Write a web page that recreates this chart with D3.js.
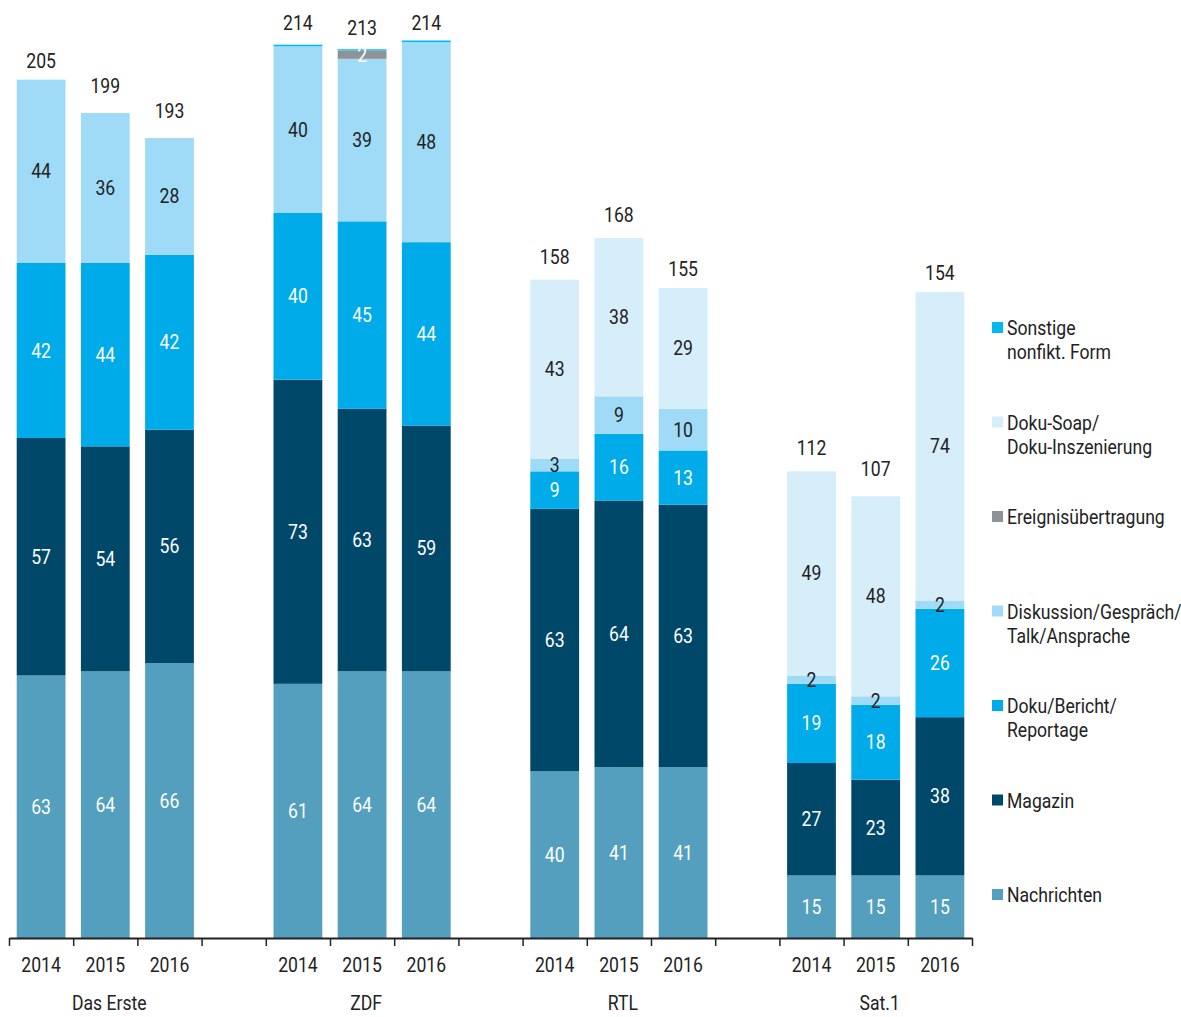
<!DOCTYPE html>
<html>
<head>
<meta charset="utf-8">
<script src="https://cdn.jsdelivr.net/npm/d3@7"></script>
<style>
  body { margin: 0; background: #fff; }
  text { font-family: "Liberation Sans Narrow", "Roboto", "DejaVu Sans Condensed", sans-serif; }
</style>
</head>
<body>
<div id="chart"></div>
<script>
// data

var groups = ["Das Erste", "ZDF", "RTL", "Sat.1"];
var years = ["2014", "2015", "2016"];

// series, bottom to top
var seriesNames = ["Nachrichten", "Magazin", "Doku/Bericht/Reportage", "Diskussion/Gespräch/Talk/Ansprache",
  "Ereignisübertragung", "Doku-Soap/Doku-Inszenierung", "Sonstige nonfikt. Form"];

// one entry per bar: Das Erste 14,15,16, ZDF 14,15,16, RTL ..., Sat.1 ...
var nachrichten = [63, 64, 66, 61, 64, 64, 40, 41, 41, 15, 15, 15];
var magazin     = [57, 54, 56, 73, 63, 59, 63, 64, 63, 27, 23, 38];
var dokuBericht = [42, 44, 42, 40, 45, 44, 9, 16, 13, 19, 18, 26];
var diskussion  = [44, 36, 28, 40, 39, 48, 3, 9, 10, 2, 2, 2];
var ereignis    = [0, 0, 0, 0, 2, 0, 0, 0, 0, 0, 0, 0];
var dokuSoap    = [0, 0, 0, 0, 0, 0, 43, 38, 29, 49, 48, 74];
var sonstige    = [0, 0, 0, 0.4, 0.3, 0.4, 0, 0, 0, 0, 0, 0];
var totals      = [205, 199, 193, 214, 213, 214, 158, 168, 155, 112, 107, 154];

var legendNames = [["Sonstige", "nonfikt. Form"], ["Doku-Soap/", "Doku-Inszenierung"], ["Ereignisübertragung"],
  ["Diskussion/Gespräch/", "Talk/Ansprache"], ["Doku/Bericht/", "Reportage"], ["Magazin"], ["Nachrichten"]];

var colors = ["#539fbd", "#00486a", "#00abe9", "#9fdbf6", "#8f9397", "#d6edfa", "#00b9f1"];
var labelColors = ["#fff", "#fff", "#fff", "#222", "#fff", "#222", "#fff"];

var svgWidth = 1181;
var svgHeight = 1017;
var squeeze = 0.88; // narrow the font a bit, the original uses a condensed face

var svg = d3.select("#chart")
  .append("svg")
  .attr("width", svgWidth)
  .attr("height", svgHeight);

// build rows for the stack
var allSeries = [nachrichten, magazin, dokuBericht, diskussion, ereignis, dokuSoap, sonstige];
var rows = [];
groups.forEach(function(g, gi) {
  years.forEach(function(y, yi) {
    var i = gi * 3 + yi;
    var row = { key: g + "|" + y, group: g, year: y, total: totals[i] };
    seriesNames.forEach(function(s, si) { row[s] = allSeries[si][i]; });
    rows.push(row);
  });
});

// slots: 3 bars per group and an empty slot between groups
var slots = [];
groups.forEach(function(g, gi) {
  years.forEach(function(y) { slots.push(g + "|" + y); });
  if (gi < groups.length - 1) slots.push("gap" + gi);
});

var axisLeft = 9, axisRight = 972, baseY = 938;

var xScale = d3.scaleBand()
  .domain(slots)
  .range([axisLeft, axisRight])
  .paddingInner(0)
  .paddingOuter(0);

var barPad = xScale.bandwidth() * 0.12;
var barWidth = xScale.bandwidth() - 2 * barPad;

var yScale = d3.scaleLinear()
  .domain([0, 216])
  .range([baseY, 38]);

function place(x, y) {
  return `translate(${x},${y}) scale(${squeeze},1)`;
}

var stack = d3.stack().keys(seriesNames);
var stacked = stack(rows);

var chartGroup = svg.append("g");

var layers = chartGroup.selectAll("g.layer")
  .data(stacked)
  .enter()
  .append("g")
  .attr("class", "layer")
  .attr("fill", (d, i) => colors[i]);

layers.selectAll("rect")
  .data(d => d)
  .enter()
  .append("rect")
  .attr("x", d => xScale(d.data.key) + barPad)
  .attr("width", barWidth)
  .attr("y", d => yScale(d[1]))
  .attr("height", d => yScale(d[0]) - yScale(d[1]));

// value labels inside segments
stacked.forEach(function(layer, li) {
  chartGroup.append("g")
    .selectAll("text")
    .data(layer.filter(d => d[1] - d[0] >= 1))
    .enter()
    .append("text")
    .attr("transform", d => place(xScale(d.data.key) + xScale.bandwidth() / 2, yScale((d[0] + d[1]) / 2) + 7))
    .attr("text-anchor", "middle")
    .attr("font-size", 20)
    .attr("fill", labelColors[li])
    .text(d => d[1] - d[0]);
});

// totals above bars
chartGroup.append("g")
  .selectAll("text")
  .data(rows)
  .enter()
  .append("text")
  .attr("transform", d => place(xScale(d.key) + xScale.bandwidth() / 2, yScale(d.total) - 16))
  .attr("text-anchor", "middle")
  .attr("font-size", 20)
  .attr("fill", "#222")
  .text(d => d.total);

// x axis with ticks on the slot borders
var tickScale = d3.scaleLinear().domain([0, slots.length]).range([axisLeft, axisRight]);
var xAxis = d3.axisBottom(tickScale)
  .tickValues(d3.range(0, slots.length + 1))
  .tickSize(8)
  .tickSizeOuter(0)
  .tickFormat("");

var axisG = chartGroup.append("g")
  .attr("transform", `translate(0, ${baseY})`)
  .call(xAxis);
axisG.select(".domain").attr("stroke", "#222").attr("stroke-width", 2);
axisG.selectAll(".tick line").attr("stroke", "#222").attr("stroke-width", 1.5);

// year labels
chartGroup.append("g")
  .selectAll("text")
  .data(rows)
  .enter()
  .append("text")
  .attr("transform", d => place(xScale(d.key) + xScale.bandwidth() / 2, 972))
  .attr("text-anchor", "middle")
  .attr("font-size", 20)
  .attr("fill", "#222")
  .text(d => d.year);

// group labels
chartGroup.append("g")
  .selectAll("text")
  .data(groups)
  .enter()
  .append("text")
  .attr("transform", d => place(xScale(d + "|2015") + xScale.bandwidth() / 2 + 4, 1010))
  .attr("text-anchor", "middle")
  .attr("font-size", 20)
  .attr("fill", "#222")
  .text(d => d);

// legend, top item is the top series
var legend = svg.append("g").attr("transform", "translate(992, 322)");
var legendColors = colors.slice().reverse();

legendNames.forEach(function(lines, i) {
  var item = legend.append("g").attr("transform", `translate(0, ${i * 94.5})`);
  item.append("rect")
    .attr("width", 11)
    .attr("height", 11)
    .attr("y", 0)
    .attr("fill", legendColors[i]);
  lines.forEach(function(line, j) {
    item.append("text")
      .attr("transform", place(15, 13 + j * 24))
      .attr("font-size", 20)
      .attr("fill", "#222")
      .text(line);
  });
});
</script>
</body>
</html>
